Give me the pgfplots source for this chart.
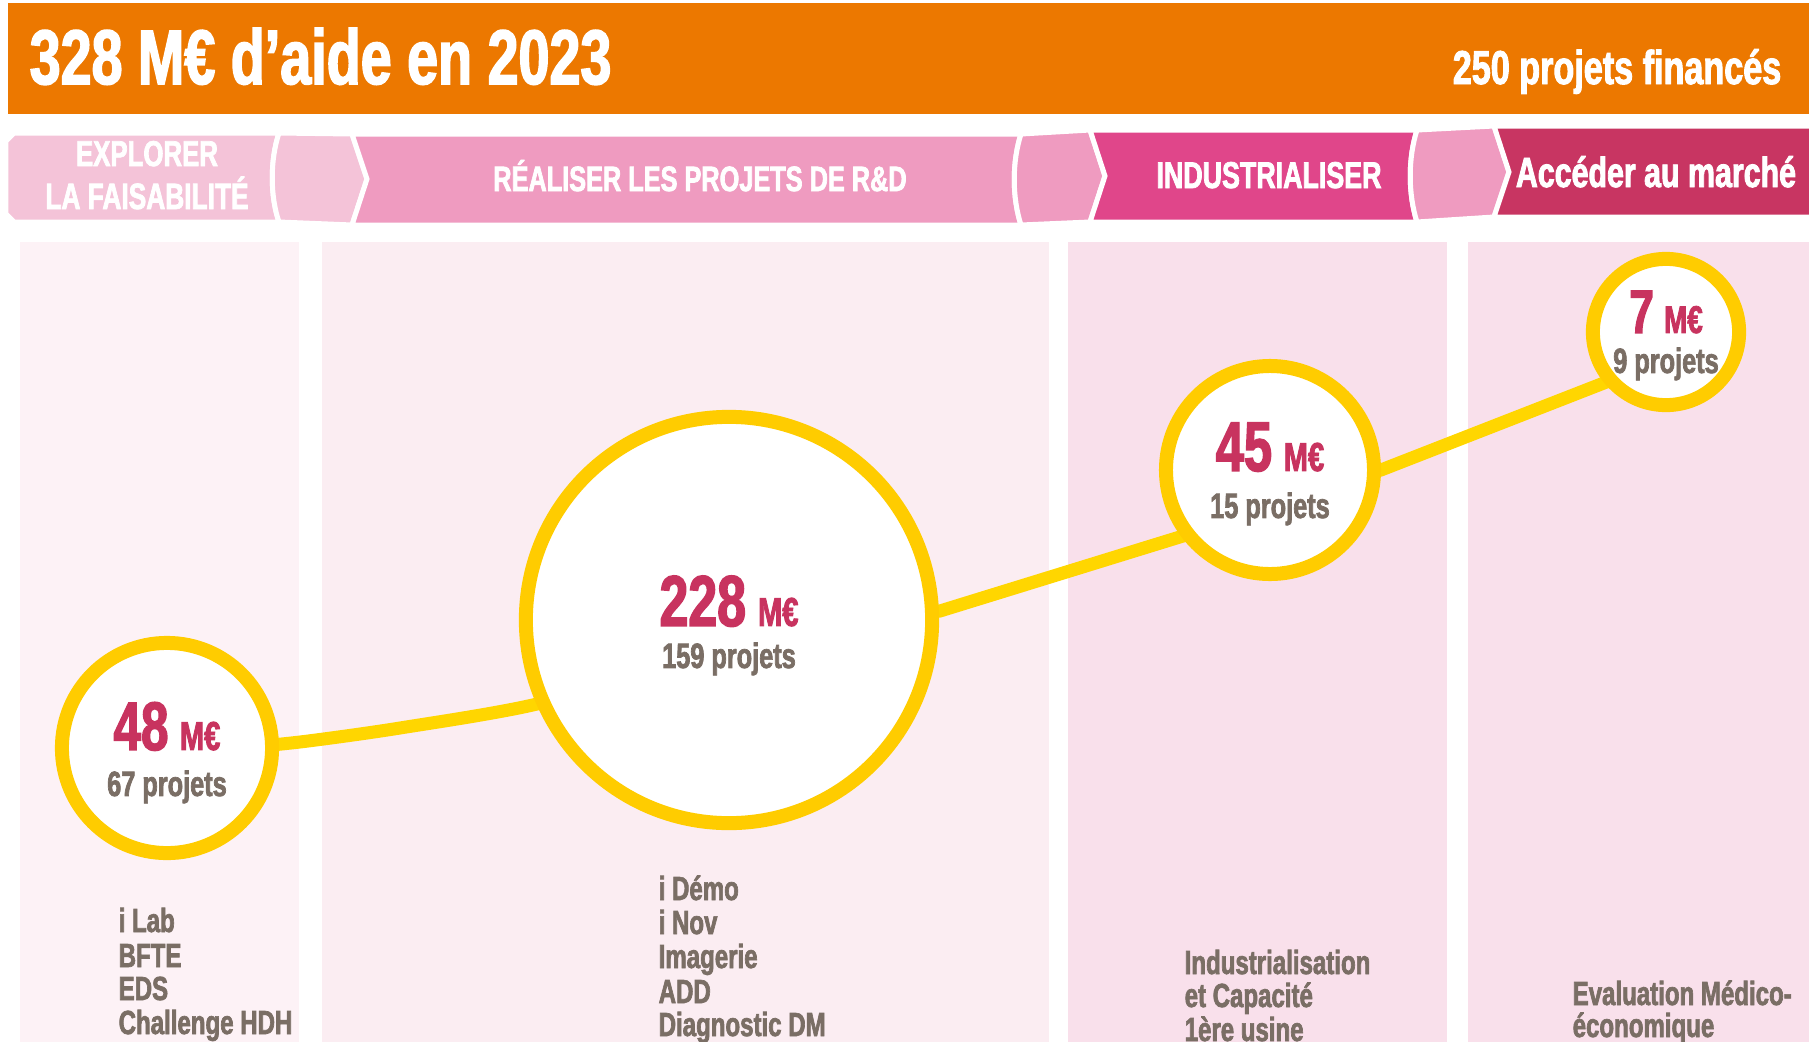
\documentclass[border=0pt]{standalone}
\usepackage{pgfplots}
\pgfplotsset{compat=1.18}
\usepackage{fontspec}
\setmainfont{Liberation Sans}[FakeStretch=0.72,BoldFeatures={FakeBold=2}]
\definecolor{orangeh}{RGB}{236,120,0}
\definecolor{pinkA}{RGB}{244,195,216}
\definecolor{pinkB}{RGB}{239,155,192}
\definecolor{pinkC}{RGB}{224,70,138}
\definecolor{pinkD}{RGB}{200,53,98}
\definecolor{colA}{RGB}{253,242,246}
\definecolor{colB}{RGB}{251,237,242}
\definecolor{colC}{RGB}{249,224,235}
\definecolor{ring}{RGB}{255,204,0}
\definecolor{lineY}{RGB}{255,214,0}
\definecolor{mag}{RGB}{200,51,95}
\definecolor{grayt}{RGB}{122,110,101}
\newcommand\fs[1]{\fontsize{#1}{#1}\selectfont}
\tikzset{lst/.style={anchor=base west,text=grayt,inner sep=0pt,font=\bfseries\fs{9.5}}}
\begin{document}
\begin{tikzpicture}
\begin{axis}[at={(0,0)},anchor=south west,scale only axis,
  width=18.09cm,height=10.42cm,xmin=0,xmax=1809,ymin=0,ymax=1042,
  y dir=reverse,hide axis,clip=false]
% header
\fill[orangeh] (8,3) rectangle (1809,114);
\node[anchor=base west,text=white,inner sep=0pt] at (29,84) {\bfseries\fs{22}328 M€ d’aide en 2023};
\node[anchor=base east,text=white,inner sep=0pt] at (1782,84) {\bfseries\fs{13.5}250 projets financés};
% columns
\fill[colA] (20,242) rectangle (299,1042);
\fill[colB] (322,242) rectangle (1049,1042);
\fill[colC] (1068,242) rectangle (1447,1042);
\fill[colC] (1468,242) rectangle (1809,1042);
% banner
\filldraw[fill=pinkA,draw=white,line width=0.5mm] (14,133) -- (279,133) .. controls (270,160) and (270,196) .. (279,222) -- (14,222) -- (6,214) -- (6,141) -- cycle;
\filldraw[fill=pinkA,draw=white,line width=0.5mm] (279,133) .. controls (270,160) and (270,196) .. (279,222) -- (352,225) -- (367,179) -- (352,134) -- cycle;
\filldraw[fill=pinkB,draw=white,line width=0.5mm] (352,134) -- (1021,134) .. controls (1012,162) and (1012,197) .. (1021,225) -- (352,225) -- (367,179) -- cycle;
\filldraw[fill=pinkB,draw=white,line width=0.5mm] (1021,134) .. controls (1012,162) and (1012,197) .. (1021,225) -- (1090,222) -- (1105,176) -- (1090,130) -- cycle;
\filldraw[fill=pinkC,draw=white,line width=0.5mm] (1090,130) -- (1417,130) .. controls (1408,158) and (1408,194) .. (1417,222) -- (1090,222) -- (1105,176) -- cycle;
\filldraw[fill=pinkB,draw=white,line width=0.5mm] (1417,130) .. controls (1408,158) and (1408,194) .. (1417,222) -- (1494,217) -- (1509,172) -- (1494,126) -- cycle;
\filldraw[fill=pinkD,draw=white,line width=0.5mm] (1494,126) -- (1812,126) -- (1812,217) -- (1494,217) -- (1509,172) -- cycle;
\node[anchor=base,text=white,inner sep=0pt] at (147,166) {\bfseries\fs{10.2}EXPLORER};
\node[anchor=base,text=white,inner sep=0pt] at (147,209) {\bfseries\fs{10.4}LA FAISABILITÉ};
\node[anchor=base,text=white,inner sep=0pt] at (700,191) {\bfseries\fs{10}RÉALISER LES PROJETS DE R\&D};
\node[anchor=base,text=white,inner sep=0pt] at (1269,188) {\bfseries\fs{10.6}INDUSTRIALISER};
\node[anchor=base,text=white,inner sep=0pt] at (1656,187) {\bfseries\fs{12}Accéder au marché};
% connecting line
\addplot[lineY,line width=1.3mm,line join=round,smooth,tension=0.4] coordinates {
 (200,752) (300,742) (400,728) (545,702) (729,640)};
\addplot[lineY,line width=1.3mm,line join=round] coordinates {
 (729,640) (940,611) (1183,536) (1270,500) (1381,470) (1609,381) (1666,355)};
% bubbles
\addplot[only marks,mark=*,mark size=29.9pt,mark options={fill=white,draw=ring,line width=1.4mm}] coordinates {(167,748)};
\addplot[only marks,mark=*,mark size=57.8pt,mark options={fill=white,draw=ring,line width=1.4mm}] coordinates {(729,620)};
\addplot[only marks,mark=*,mark size=29.6pt,mark options={fill=white,draw=ring,line width=1.4mm}] coordinates {(1270,470)};
\addplot[only marks,mark=*,mark size=20.8pt,mark options={fill=white,draw=ring,line width=1.4mm}] coordinates {(1666,332)};
\coordinate (a1) at (167,750); \coordinate (p1) at (167,796);
\coordinate (a2) at (729,626); \coordinate (p2) at (729,668);
\coordinate (a3) at (1270,471); \coordinate (p3) at (1270,518);
\coordinate (a4) at (1666,333); \coordinate (p4) at (1666,373);
% lists
\node[lst] at (118,932) {i Lab};
\node[lst] at (118,967) {BFTE};
\node[lst] at (118,1000) {EDS};
\node[lst] at (118,1034) {Challenge HDH};
\node[lst] at (658,900) {i Démo};
\node[lst] at (658,934) {i Nov};
\node[lst] at (658,968) {Imagerie};
\node[lst] at (658,1003) {ADD};
\node[lst] at (658,1036) {Diagnostic DM};
\node[lst] at (1184,974) {Industrialisation};
\node[lst] at (1184,1007) {et Capacité};
\node[lst] at (1184,1041) {1ère usine};
\node[lst] at (1572,1005) {Evaluation Médico-};
\node[lst] at (1572,1037) {économique};
\end{axis}
% bubble texts
\node[anchor=base,text=mag,inner sep=0pt] at (a1) {\bfseries\fs{19.5}48\,\fs{11.5}M€};
\node[anchor=base,text=grayt,inner sep=0pt] at (p1) {\bfseries\fs{10}67 projets};
\node[anchor=base,text=mag,inner sep=0pt] at (a2) {\bfseries\fs{20.5}228\,\fs{11.5}M€};
\node[anchor=base,text=grayt,inner sep=0pt] at (p2) {\bfseries\fs{10}159 projets};
\node[anchor=base,text=mag,inner sep=0pt] at (a3) {\bfseries\fs{20}45\,\fs{11.5}M€};
\node[anchor=base,text=grayt,inner sep=0pt] at (p3) {\bfseries\fs{10}15 projets};
\node[anchor=base,text=mag,inner sep=0pt] at (a4) {\bfseries\fs{17.5}7\,\fs{11}M€};
\node[anchor=base,text=grayt,inner sep=0pt] at (p4) {\bfseries\fs{10}9 projets};
\pgfresetboundingbox
\path (0,0) rectangle (18.09cm,10.42cm);
\end{tikzpicture}
\end{document}
